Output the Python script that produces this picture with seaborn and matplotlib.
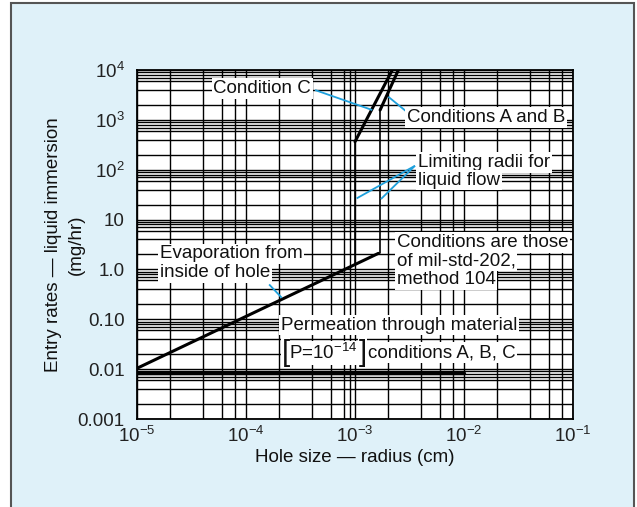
import numpy as np
import pandas as pd
import matplotlib
matplotlib.use("Agg")
import matplotlib.pyplot as plt
from matplotlib.patches import Rectangle
from matplotlib.ticker import FixedLocator, NullFormatter, FixedFormatter
import seaborn as sns

# ---------------- data ----------------
evap_x = [1e-5, 1.64e-3]
evap_y = [0.0104, 2.1]
perm_x = [1e-5, 1e-2]
perm_y = [0.0085, 0.0085]
condC_x = [1.0e-3, 2.2e-3]
condC_y = [365, 1e4]
condAB_x = [1.7e-3, 2.5e-3]
condAB_y = [1575, 1e4]
limit1_x = [1.0e-3, 1.0e-3]
limit1_y = [1.25, 365]
limit2_x = [1.7e-3, 1.7e-3]
limit2_y = [2.1, 1575]

xticks = [1e-5, 1e-4, 1e-3, 1e-2, 1e-1]
xtick_labels = [r"$10^{-5}$", r"$10^{-4}$", r"$10^{-3}$", r"$10^{-2}$", r"$10^{-1}$"]
yticks = [1e-3, 1e-2, 1e-1, 1, 10, 100, 1e3, 1e4]
ytick_labels = ["0.001", "0.01", "0.10", "1.0", "10", r"$10^{2}$", r"$10^{3}$", r"$10^{4}$"]
x_grid_subs = [2, 4, 6, 8]
x_grid_extra = [9e-4]
y_grid_subs = [2, 4, 6, 7, 8, 9]

# annotation text lines: (text, x_left, y_center)
label_lines = [
    ("Condition C", 5.03e-5, 4276),
    ("Conditions A and B", 2.98e-3, 1122),
    ("Limiting radii for", 3.76e-3, 140),
    ("liquid flow", 3.76e-3, 62),
    ("Conditions are those", 2.41e-3, 3.44),
    ("of mil-std-202,", 2.41e-3, 1.47),
    ("method 104", 2.41e-3, 0.63),
    ("Evaporation from", 1.62e-5, 2.04),
    ("inside of hole", 1.62e-5, 0.86),
    ("Permeation through material", 2.08e-4, 0.0768),
]
# bracketed line, pieces with offsets (points) from a shared anchor
perm_anchor = (2.12e-4, 0.0214)
perm_pieces = [("[", 0.0, 21, 0.3), (r"P=10$^{-14}$", 5.5, 13.5, 1.3),
               ("]", 55.5, 21, 0.3), ("conditions A, B, C", 62.0, 13.5, 1.3)]

# leader lines: (x1, y1, x2, y2)
leaders = [
    (4.30e-4, 3963, 1.44e-3, 1574),
    (2.02e-3, 2911, 2.98e-3, 1455),
    (3.55e-3, 120, 1.035e-3, 26.6),
    (3.55e-3, 120, 1.73e-3, 25.8),
    (1.63e-4, 0.50, 2.13e-4, 0.27),
]

# ---------------- style ----------------
sns.set_theme(style="white")
plt.rcParams["font.family"] = ["Liberation Sans", "DejaVu Sans"]
plt.rcParams["mathtext.fontset"] = "custom"
plt.rcParams["mathtext.rm"] = "Liberation Sans"
plt.rcParams["mathtext.it"] = "Liberation Sans:italic"
plt.rcParams["mathtext.bf"] = "Liberation Sans:bold"

FS = 13.5
BG = "#dff1f9"
LEAD = "#1ea0dc"
TXT = "#111111"

fig = plt.figure(figsize=(6.37, 5.07), dpi=100, facecolor="white")
W, H = 637, 507
fig.patches.append(Rectangle((11 / W, -0.02), (634 - 11) / W, 1 - 3 / H + 0.02,
                             transform=fig.transFigure, facecolor=BG,
                             edgecolor="#555555", linewidth=1.5, zorder=-10))

ax = fig.add_axes([137 / W, (H - 419) / H, (573 - 137) / W, (419 - 70) / H])
ax.set_facecolor("white")
ax.set_xscale("log")
ax.set_yscale("log")
ax.set_xlim(1e-5, 1e-1)
ax.set_ylim(1e-3, 1e4)

x_minor = [s * 10.0 ** e for e in range(-5, -1) for s in x_grid_subs] + x_grid_extra
y_minor = [s * 10.0 ** e for e in range(-3, 4) for s in y_grid_subs]

ax.xaxis.set_major_locator(FixedLocator(xticks))
ax.xaxis.set_major_formatter(FixedFormatter(xtick_labels))
ax.yaxis.set_major_locator(FixedLocator(yticks))
ax.yaxis.set_major_formatter(FixedFormatter(ytick_labels))
ax.xaxis.set_minor_locator(FixedLocator(x_minor))
ax.yaxis.set_minor_locator(FixedLocator(y_minor))
ax.xaxis.set_minor_formatter(NullFormatter())
ax.yaxis.set_minor_formatter(NullFormatter())
ax.tick_params(which="both", length=0)
ax.tick_params(axis="x", which="major", labelsize=FS, pad=5, colors="#222222")
ax.tick_params(axis="y", which="major", labelsize=FS, pad=9, colors="#222222")
ax.grid(True, which="both", color="black", linewidth=1.0)
ax.set_axisbelow(True)
for s in ax.spines.values():
    s.set_color("black")
    s.set_linewidth(1.3)

# ---------------- curves ----------------
curves = [
    (evap_x, evap_y, 2.2),
    (perm_x, perm_y, 2.4),
    (condC_x, condC_y, 2.2),
    (condAB_x, condAB_y, 2.2),
    (limit1_x, limit1_y, 1.2),
    (limit2_x, limit2_y, 1.2),
]
for xs, ys, lw in curves:
    df = pd.DataFrame({"x": xs, "y": ys})
    sns.lineplot(data=df, x="x", y="y", ax=ax, color="black", linewidth=lw,
                 sort=False, estimator=None, zorder=3)

for x1, y1, x2, y2 in leaders:
    ax.plot([x1, x2], [y1, y2], color=LEAD, linewidth=1.3, zorder=4,
            solid_capstyle="butt")

box = dict(facecolor="white", edgecolor="none", pad=1.3)
for txt, x, y in label_lines:
    ax.text(x, y, txt, fontsize=FS, ha="left", va="center", color=TXT,
            zorder=5, bbox=box)

for txt, dx, fs, pad in perm_pieces:
    ax.annotate(txt, xy=perm_anchor, xytext=(dx, 0), textcoords="offset points",
                fontsize=fs, ha="left", va="center", color=TXT, zorder=6,
                fontweight="light",
                bbox=dict(facecolor="white", edgecolor="none", pad=pad))

ax.set_xlabel("Hole size \u2014 radius (cm)", fontsize=FS, color=TXT)
ax.set_ylabel("Entry rates \u2014 liquid immersion\n(mg/hr)", fontsize=FS,
              color=TXT, linespacing=1.4)
ax.xaxis.set_label_coords(0.5, -0.085)
ax.yaxis.set_label_coords(-0.12, 0.5)

fig.savefig("out.png", dpi=100, facecolor=fig.get_facecolor())
